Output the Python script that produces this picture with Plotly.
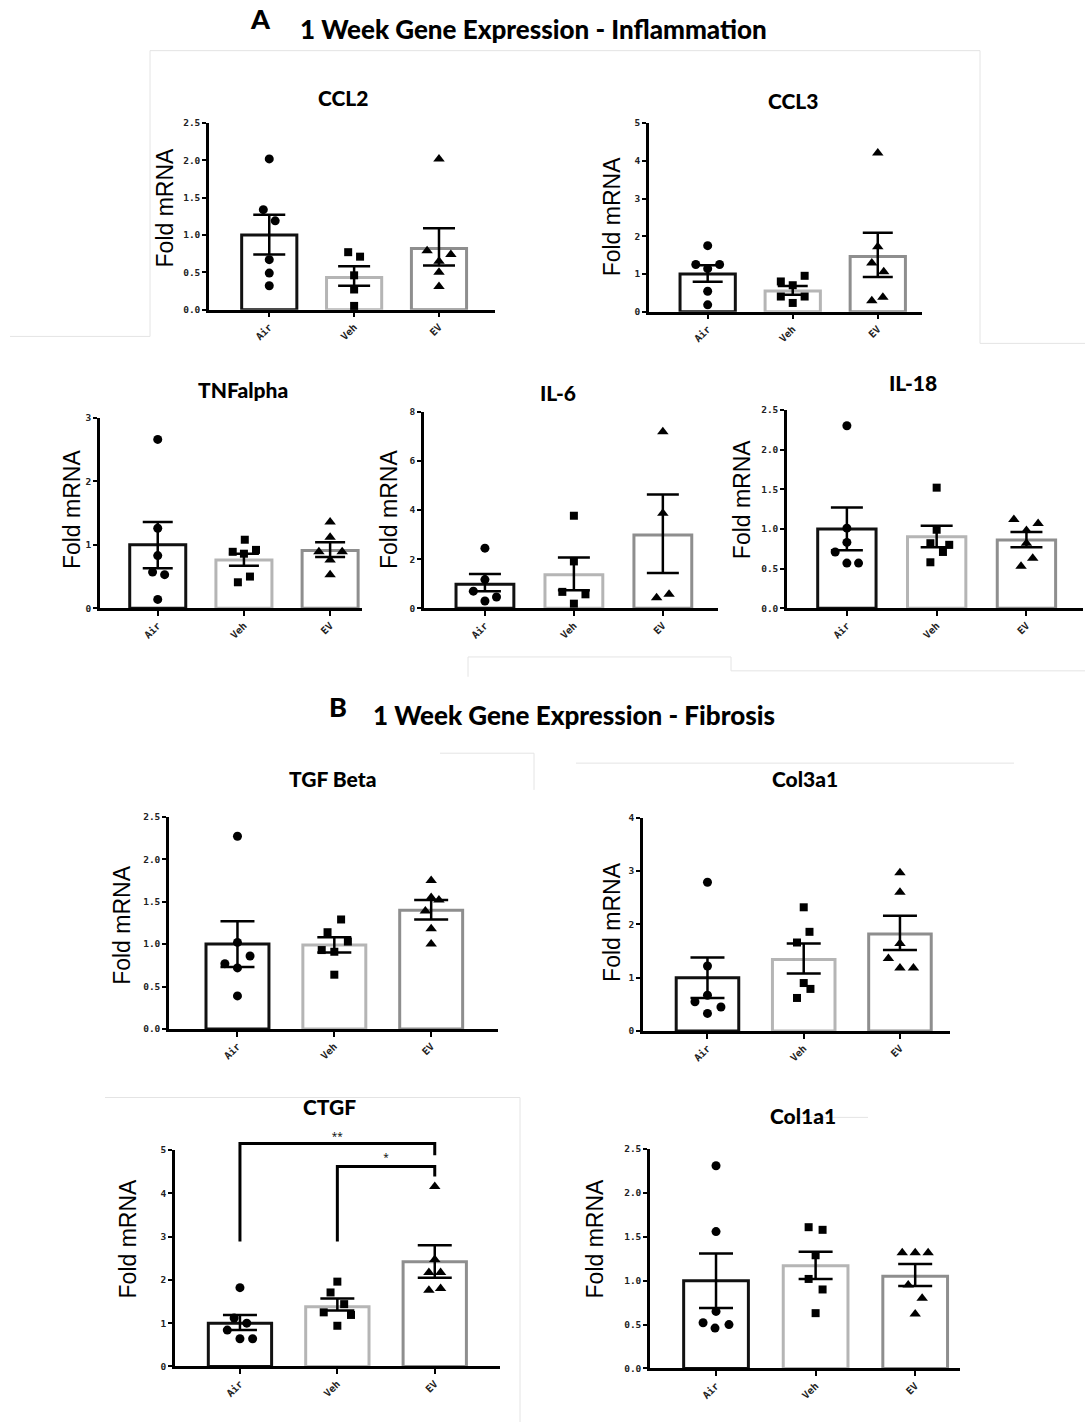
import plotly.graph_objects as go

W, H = 1085, 1427

groups = ["Air", "Veh", "EV"]
tick_labels = ["Air", "Veh", "EV"]

# ---------------- Data ----------------
# CCL2
ccl2_air = [2.02, 1.34, 1.19, 0.67, 0.49, 0.32]
ccl2_veh = [0.77, 0.71, 0.46, 0.27, 0.05]
ccl2_ev = [2.02, 0.79, 0.74, 0.65, 0.50, 0.31]
ccl2_mean = [1.00, 0.43, 0.82]
ccl2_lo = [0.74, 0.32, 0.59]
ccl2_hi = [1.27, 0.58, 1.09]

# CCL3
ccl3_air = [1.75, 1.25, 1.25, 1.14, 0.54, 0.18]
ccl3_veh = [0.95, 0.80, 0.70, 0.40, 0.40, 0.23]
ccl3_ev = [4.21, 1.72, 1.29, 1.06, 0.38, 0.29]
ccl3_mean = [1.00, 0.55, 1.46]
ccl3_lo = [0.79, 0.45, 0.92]
ccl3_hi = [1.23, 0.68, 2.09]

# TNFalpha
tnf_air = [2.66, 1.26, 0.83, 0.57, 0.53, 0.14]
tnf_veh = [1.08, 0.89, 0.86, 0.92, 0.50, 0.41]
tnf_ev = [1.36, 1.12, 0.89, 0.89, 0.76, 0.53]
tnf_mean = [1.00, 0.76, 0.91]
tnf_lo = [0.63, 0.67, 0.81]
tnf_hi = [1.36, 0.86, 1.04]

# IL-6
il6_air = [2.45, 1.17, 0.70, 0.46, 0.30]
il6_veh = [3.77, 1.91, 0.67, 0.57, 0.19]
il6_ev = [7.19, 3.87, 0.43, 0.57]
il6_mean = [0.98, 1.37, 2.99]
il6_lo = [0.70, 0.74, 1.44]
il6_hi = [1.40, 2.07, 4.63]

# IL-18
il18_air = [2.30, 1.01, 0.83, 0.71, 0.57, 0.57]
il18_veh = [1.52, 0.99, 0.82, 0.80, 0.71, 0.58]
il18_ev = [1.12, 1.07, 0.98, 0.82, 0.63, 0.53]
il18_mean = [1.00, 0.90, 0.86]
il18_lo = [0.73, 0.77, 0.77]
il18_hi = [1.27, 1.04, 0.96]

# TGF Beta
tgf_air = [2.27, 1.02, 0.86, 0.77, 0.72, 0.39]
tgf_veh = [1.29, 1.14, 1.03, 0.93, 0.91, 0.64]
tgf_ev = [1.75, 1.55, 1.52, 1.39, 1.18, 1.00]
tgf_mean = [1.00, 0.99, 1.40]
tgf_lo = [0.73, 0.90, 1.29]
tgf_hi = [1.27, 1.08, 1.52]

# Col3a1
col3_air = [2.79, 1.22, 0.67, 0.55, 0.45, 0.33]
col3_veh = [2.32, 1.86, 1.66, 0.90, 0.79, 0.62]
col3_ev = [2.97, 2.60, 1.64, 1.36, 1.18, 1.18]
col3_mean = [1.00, 1.34, 1.82]
col3_lo = [0.62, 1.08, 1.52]
col3_hi = [1.38, 1.64, 2.16]

# CTGF
ctgf_air = [1.82, 1.12, 1.00, 0.84, 0.64, 0.64]
ctgf_veh = [1.96, 1.71, 1.44, 1.25, 1.19, 0.94]
ctgf_ev = [4.16, 2.47, 2.17, 2.17, 1.76, 1.80]
ctgf_mean = [1.00, 1.38, 2.42]
ctgf_lo = [0.84, 1.29, 2.05]
ctgf_hi = [1.19, 1.57, 2.80]
ctgf_sig_labels = ["**", "*"]
ctgf_bracket1_y = [2.89, 5.15, 5.15, 4.88]
ctgf_bracket2_y = [2.89, 4.62, 4.62, 4.39]
ctgf_sig_y = [5.28, 4.81]

# Col1a1
col1_air = [2.31, 1.56, 0.65, 0.52, 0.50, 0.46]
col1_veh = [1.61, 1.58, 1.29, 1.02, 0.90, 0.63]
col1_ev = [1.32, 1.32, 1.32, 0.95, 0.80, 0.62]
col1_mean = [1.00, 1.17, 1.05]
col1_lo = [0.69, 1.02, 0.94]
col1_hi = [1.31, 1.33, 1.19]

# horizontal jitter of the dots (category units)
ccl2_jit = ([0, -0.07, 0.07, 0, 0, 0], [-0.07, 0.07, 0, 0, 0], [0, -0.14, 0.14, 0, 0, 0])
ccl3_jit = ([0, -0.14, 0.14, 0, 0, 0], [0.14, -0.14, 0, -0.14, 0.14, 0], [0, 0, -0.07, 0.07, 0.06, -0.07])
tnf_jit = ([0, 0, 0, -0.06, 0.08, 0], [0.01, -0.13, 0, 0.14, 0.07, -0.07], [0, 0, -0.13, 0.14, 0, 0])
il6_jit = ([0, 0, -0.13, 0.13, 0], [0, 0, -0.13, 0.13, 0], [0, 0, -0.07, 0.07])
il18_jit = ([0, 0, 0, -0.13, 0, 0.13], [0, 0, -0.07, 0.14, 0.07, -0.07], [-0.14, 0.13, 0, 0, 0.07, -0.06])
tgf_jit = ([0, 0, 0.13, -0.13, 0, 0], [0.07, -0.07, 0.14, -0.13, 0, 0], [0, 0, 0.08, -0.06, 0, 0])
col3_jit = ([0, 0, 0, -0.13, 0.14, 0], [0, 0.06, -0.07, 0, 0.07, -0.07], [0, 0, 0, -0.12, 0, 0.14])
ctgf_jit = ([0, -0.06, 0.07, -0.13, 0, 0.13], [0, -0.07, 0.07, -0.14, 0.14, 0], [0, 0, -0.06, 0.06, -0.06, 0.06])
col1_jit = ([0, 0, 0, -0.13, 0.13, -0.01], [-0.07, 0.07, 0, -0.07, 0.07, 0], [-0.13, 0, 0.13, -0.07, 0.07, 0])

# ---------------- Styling / layout (pixels) ----------------
edge_colors = ["#111111", "#b5b5b5", "#8e8e8e"]
symbols = ["circle", "square", "triangle-up"]
msizes = [9, 8, 10]

panels = [
    dict(title="CCL2", pts=(ccl2_air, ccl2_veh, ccl2_ev), mean=ccl2_mean, lo=ccl2_lo, hi=ccl2_hi, jit=ccl2_jit,
         box=(209, 495, 118, 306), ymax=2.5, dtick=0.5, fmt=".1f", xr=(-0.71, 2.66), tpos=(343, 92), lpos=(165, 203), cap=16),
    dict(title="CCL3", pts=(ccl3_air, ccl3_veh, ccl3_ev), mean=ccl3_mean, lo=ccl3_lo, hi=ccl3_hi, jit=ccl3_jit,
         box=(649, 922, 118, 308), ymax=5, dtick=1, fmt="d", xr=(-0.69, 2.52), tpos=(793, 95), lpos=(612, 212), cap=15),
    dict(title="TNFalpha", pts=(tnf_air, tnf_veh, tnf_ev), mean=tnf_mean, lo=tnf_lo, hi=tnf_hi, jit=tnf_jit,
         box=(100, 362, 415, 607), ymax=3, dtick=1, fmt="d", xr=(-0.67, 2.37), tpos=(243, 386), lpos=(72, 507), cap=15),
    dict(title="IL-6", pts=(il6_air, il6_veh, il6_ev), mean=il6_mean, lo=il6_lo, hi=il6_hi, jit=il6_jit,
         box=(424, 718, 409, 607), ymax=8, dtick=2, fmt="d", xr=(-0.685, 2.62), tpos=(558, 389), lpos=(389, 507), cap=16),
    dict(title="IL-18", pts=(il18_air, il18_veh, il18_ev), mean=il18_mean, lo=il18_lo, hi=il18_hi, jit=il18_jit,
         box=(787, 1083, 407, 607), ymax=2.5, dtick=0.5, fmt=".1f", xr=(-0.667, 2.63), tpos=(913, 379), lpos=(742, 497), cap=16),
    dict(title="TGF Beta", pts=(tgf_air, tgf_veh, tgf_ev), mean=tgf_mean, lo=tgf_lo, hi=tgf_hi, jit=tgf_jit,
         box=(169, 498, 817, 1031), ymax=2.5, dtick=0.5, fmt=".1f", xr=(-0.707, 2.69), tpos=(332, 779), lpos=(122, 926), cap=17),
    dict(title="Col3a1", pts=(col3_air, col3_veh, col3_ev), mean=col3_mean, lo=col3_lo, hi=col3_hi, jit=col3_jit,
         box=(643, 950, 818, 1033), ymax=4, dtick=1, fmt="d", xr=(-0.67, 2.52), tpos=(805, 778), lpos=(612, 923), cap=17),
    dict(title="CTGF", pts=(ctgf_air, ctgf_veh, ctgf_ev), mean=ctgf_mean, lo=ctgf_lo, hi=ctgf_hi, jit=ctgf_jit,
         box=(175, 500, 1153, 1371), ymax=5, dtick=1, fmt="d", xr=(-0.667, 2.67), tpos=(329, 1109), lpos=(128, 1242), cap=17),
    dict(title="Col1a1", pts=(col1_air, col1_veh, col1_ev), mean=col1_mean, lo=col1_lo, hi=col1_hi, jit=col1_jit,
         box=(650, 960, 1152, 1373), ymax=2.5, dtick=0.5, fmt=".1f", xr=(-0.663, 2.45), tpos=(803, 1118), lpos=(595, 1242), cap=17),
]

tick_font = dict(family="DejaVu Sans Mono", size=9.5, color="#222222", weight="bold")
xtick_font = dict(family="DejaVu Sans Mono", size=10, color="#222222", weight="bold")
title_font = dict(family="Lato", size=21, color="black", weight=900)
ylab_font = dict(family="Liberation Sans, Arial", size=23, color="black")

fig = go.Figure()
layout = dict(width=W, height=H, margin=dict(l=0, r=0, t=0, b=0),
              paper_bgcolor="white", plot_bgcolor="rgba(0,0,0,0)", showlegend=False)
annotations = []
shapes = []


def px_x(x):
    return x / W


def px_y(y):
    return 1 - y / H


for i, p in enumerate(panels):
    k = i + 1
    xa = "x" if k == 1 else f"x{k}"
    ya = "y" if k == 1 else f"y{k}"
    l, r, t, b = p["box"]
    layout[f"xaxis{k}" if k > 1 else "xaxis"] = dict(
        domain=[px_x(l), px_x(r)], range=list(p["xr"]), anchor=ya,
        tickmode="array", tickvals=[0, 1, 2], ticktext=tick_labels, tickangle=-45,
        showline=True, linewidth=2.5, linecolor="black", ticks="outside", ticklen=5,
        tickwidth=2, tickcolor="black", showgrid=False, zeroline=False, tickfont=xtick_font,
        fixedrange=True)
    layout[f"yaxis{k}" if k > 1 else "yaxis"] = dict(
        domain=[px_y(b), px_y(t)], range=[0, p["ymax"]], anchor=xa,
        tick0=0, dtick=p["dtick"], tickformat=p["fmt"],
        showline=True, linewidth=2.5, linecolor="black", ticks="outside", ticklen=4,
        tickwidth=2, tickcolor="black", showgrid=False, zeroline=False, tickfont=tick_font,
        fixedrange=True)

    # bars (white with coloured outline)
    fig.add_trace(go.Bar(x=[0, 1, 2], y=p["mean"], width=0.65, xaxis=xa, yaxis=ya,
                         marker=dict(color="white", line=dict(color=edge_colors, width=3)),
                         hoverinfo="skip"))
    # individual points
    for g in range(3):
        vals = p["pts"][g]
        xs = [g + j for j in p["jit"][g]]
        fig.add_trace(go.Scatter(x=xs, y=vals, mode="markers", xaxis=xa, yaxis=ya,
                                 marker=dict(symbol=symbols[g], size=msizes[g], color="black",
                                             line=dict(width=0)),
                                 cliponaxis=False, hoverinfo="skip"))
    # mean +/- SEM
    fig.add_trace(go.Scatter(
        x=[0, 1, 2], y=p["mean"], mode="markers", xaxis=xa, yaxis=ya,
        marker=dict(size=1, color="rgba(0,0,0,0)"),
        error_y=dict(type="data", symmetric=False,
                     array=[h - m for h, m in zip(p["hi"], p["mean"])],
                     arrayminus=[m - lo for m, lo in zip(p["mean"], p["lo"])],
                     width=p["cap"], thickness=2.5, color="black"),
        cliponaxis=False, hoverinfo="skip"))

    annotations.append(dict(text=p["title"], x=px_x(p["tpos"][0]), y=px_y(p["tpos"][1]),
                            xref="paper", yref="paper", xanchor="center", yanchor="middle",
                            showarrow=False, font=title_font))
    annotations.append(dict(text="Fold mRNA", x=px_x(p["lpos"][0]), y=px_y(p["lpos"][1]),
                            xref="paper", yref="paper", xanchor="center", yanchor="middle",
                            textangle=-90, showarrow=False, font=ylab_font))

# significance brackets for CTGF on a helper axis pair with the same scale but taller domain
ct = panels[7]
l, r, t, b = ct["box"]
extra = 40
k = len(panels) + 1
layout[f"xaxis{k}"] = dict(domain=[px_x(l), px_x(r)], range=list(ct["xr"]), anchor=f"y{k}",
                          visible=False, fixedrange=True)
layout[f"yaxis{k}"] = dict(domain=[px_y(b), px_y(t - extra)],
                          range=[0, ct["ymax"] * (b - t + extra) / (b - t)], anchor=f"x{k}",
                          visible=False, fixedrange=True)
fig.add_trace(go.Scatter(x=[0, 0, 2, 2], y=ctgf_bracket1_y, mode="lines", xaxis=f"x{k}", yaxis=f"y{k}",
                         line=dict(color="black", width=3), hoverinfo="skip"))
fig.add_trace(go.Scatter(x=[1, 1, 2, 2], y=ctgf_bracket2_y, mode="lines", xaxis=f"x{k}", yaxis=f"y{k}",
                         line=dict(color="black", width=3), hoverinfo="skip"))
fig.add_trace(go.Scatter(x=[1, 1.5], y=ctgf_sig_y, mode="text", text=ctgf_sig_labels,
                         xaxis=f"x{k}", yaxis=f"y{k}", textfont=dict(size=10, color="black"),
                         cliponaxis=False, hoverinfo="skip"))

# section headings
head_font = dict(family="Lato", size=26, color="black", weight=900)
letter_font = dict(family="Lato", size=27, color="black", weight=900)
annotations += [
    dict(text="A", x=px_x(260), y=px_y(13), xref="paper", yref="paper", xanchor="center",
         yanchor="middle", showarrow=False, font=letter_font),
    dict(text="1 Week Gene Expression - Inflammation", x=px_x(533), y=px_y(23), xref="paper",
         yref="paper", xanchor="center", yanchor="middle", showarrow=False, font=head_font),
    dict(text="B", x=px_x(338), y=px_y(706), xref="paper", yref="paper", xanchor="center",
         yanchor="middle", showarrow=False, font=letter_font),
    dict(text="1 Week Gene Expression - Fibrosis", x=px_x(574), y=px_y(715), xref="paper",
         yref="paper", xanchor="center", yanchor="middle", showarrow=False, font=head_font),
]

# faint panel-frame lines present in the composite image
frame_lines = [
    (150, 45, 980, 45), (150, 45, 150, 333), (10, 333, 150, 333), (980, 45, 980, 340),
    (980, 340, 1085, 340), (468, 656, 731, 656), (468, 656, 468, 676), (731, 656, 731, 670),
    (731, 670, 1085, 670), (440, 753, 534, 753), (534, 753, 534, 790), (576, 763, 1014, 763),
    (105, 1100, 520, 1100), (520, 1100, 520, 1427), (784, 1120, 868, 1120),
]
for x0, y0, x1, y1 in frame_lines:
    shapes.append(dict(type="line", xref="paper", yref="paper", x0=px_x(x0), y0=px_y(y0),
                       x1=px_x(x1), y1=px_y(y1), line=dict(color="#e4e4e4", width=1), layer="below"))

layout["annotations"] = annotations
layout["shapes"] = shapes
fig.update_layout(**layout)
fig.write_html("out.html")
